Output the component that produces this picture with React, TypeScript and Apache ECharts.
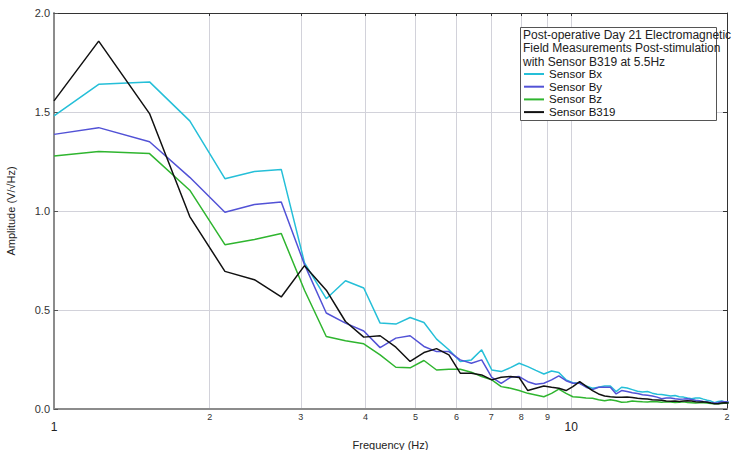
import React, { useEffect, useRef } from "react";
import * as echarts from "echarts";

const frequencies = [
  1.0, 1.22, 1.53, 1.83, 2.14, 2.44, 2.75, 3.05, 3.36, 3.66, 3.97, 4.27, 4.58, 4.88, 5.19, 5.49,
  5.8, 6.1, 6.41, 6.71, 7.02, 7.32, 7.63, 7.93, 8.24, 8.54, 8.85, 9.16, 9.46, 9.77, 10.07, 10.38,
  10.68, 10.99, 11.29, 11.6, 11.9, 12.21, 12.51, 12.82, 13.12, 13.43, 13.73, 14.04, 14.34, 14.65,
  14.95, 15.26, 15.56, 15.87, 16.17, 16.48, 16.78, 17.09, 17.39, 17.7, 18.0, 18.31, 18.62, 18.92,
  19.23, 19.53, 19.84, 20.14,
];

const sensorBx = [
  1.48, 1.64, 1.652, 1.455, 1.163, 1.2, 1.21, 0.738, 0.557, 0.648, 0.611, 0.434, 0.429, 0.462,
  0.437, 0.353, 0.299, 0.24, 0.248, 0.299, 0.197, 0.189, 0.209, 0.231, 0.214, 0.195, 0.177, 0.192,
  0.184, 0.147, 0.133, 0.13, 0.116, 0.105, 0.11, 0.116, 0.116, 0.088, 0.11, 0.106, 0.098, 0.09,
  0.086, 0.088, 0.08, 0.074, 0.073, 0.07, 0.066, 0.068, 0.062, 0.06, 0.056, 0.052, 0.055, 0.056,
  0.05, 0.044, 0.04, 0.032, 0.038, 0.04, 0.035, 0.034,
];

const sensorBy = [
  1.387, 1.421, 1.35, 1.17, 0.994, 1.033, 1.046, 0.729, 0.485, 0.434, 0.394, 0.31, 0.358, 0.37,
  0.316, 0.29, 0.29, 0.248, 0.231, 0.248, 0.16, 0.13, 0.16, 0.164, 0.138, 0.125, 0.13, 0.147,
  0.167, 0.143, 0.13, 0.13, 0.11, 0.098, 0.11, 0.11, 0.11, 0.076, 0.093, 0.088, 0.082, 0.078,
  0.072, 0.07, 0.066, 0.06, 0.052, 0.055, 0.056, 0.052, 0.049, 0.05, 0.052, 0.048, 0.044, 0.042,
  0.038, 0.035, 0.032, 0.03, 0.032, 0.038, 0.036, 0.035,
];

const sensorBz = [
  1.278, 1.301, 1.29, 1.105, 0.83, 0.856, 0.886, 0.6, 0.366, 0.345, 0.329, 0.273, 0.211, 0.208,
  0.245, 0.197, 0.201, 0.201, 0.186, 0.164, 0.147, 0.113, 0.105, 0.093, 0.079, 0.071, 0.062, 0.079,
  0.1, 0.079, 0.062, 0.059, 0.056, 0.054, 0.047, 0.042, 0.047, 0.042, 0.034, 0.035, 0.04, 0.038,
  0.036, 0.035, 0.038, 0.036, 0.034, 0.036, 0.035, 0.033, 0.034, 0.036, 0.033, 0.032, 0.03, 0.032,
  0.031, 0.03, 0.028, 0.027, 0.026, 0.028, 0.03, 0.03,
];

const sensorB319 = [
  1.556, 1.858, 1.492, 0.972, 0.695, 0.653, 0.566, 0.724, 0.6, 0.442, 0.363, 0.37, 0.312, 0.24,
  0.285, 0.305, 0.273, 0.181, 0.181, 0.172, 0.147, 0.16, 0.164, 0.159, 0.093, 0.105, 0.116, 0.11,
  0.105, 0.093, 0.113, 0.138, 0.116, 0.093, 0.076, 0.066, 0.062, 0.059, 0.059, 0.06, 0.058, 0.054,
  0.052, 0.05, 0.047, 0.046, 0.044, 0.04, 0.039, 0.04, 0.038, 0.04, 0.042, 0.04, 0.037, 0.035,
  0.036, 0.034, 0.03, 0.027, 0.026, 0.03, 0.032, 0.03,
];

const seriesNames = ["Sensor Bx", "Sensor By", "Sensor Bz", "Sensor B319"];
const seriesColors = ["#25bfd8", "#5252d6", "#2fb52f", "#111111"];
const xGridValues = [2, 3, 4, 5, 6, 7, 8, 9, 10];
const xLabelValues = [1, 2, 3, 4, 5, 6, 7, 8, 9, 10, 20];
const yTickValues = [0, 0.5, 1, 1.5, 2];
const legendTitle =
  "Post-operative Day 21 Electromagnetic\nField Measurements Post-stimulation\nwith Sensor B319 at 5.5Hz";
const xAxisName = "Frequency (Hz)";
const yAxisName = "Amplitude (V/\u221AHz)";

const font = "Liberation Sans, Arial, Helvetica, sans-serif";

export default function App() {
  const ref = useRef<HTMLDivElement>(null);

  useEffect(() => {
    document.body.style.margin = "0";
    if (!ref.current) return;
    const chart = echarts.init(ref.current, null, { renderer: "svg" });
    const allSeries = [sensorBx, sensorBy, sensorBz, sensorB319];

    const option: any = {
      animation: false,
      backgroundColor: "#ffffff",
      textStyle: { fontFamily: font },
      title: {
        text: legendTitle,
        left: 523,
        top: 28,
        padding: 0,
        z: 8,
        textStyle: {
          fontSize: 12,
          fontWeight: "normal",
          color: "#222",
          lineHeight: 13.5,
          fontFamily: font,
        },
      },
      legend: {
        data: seriesNames,
        orient: "vertical",
        left: 524,
        top: 68,
        padding: 0,
        itemWidth: 20,
        itemHeight: 2,
        itemGap: 0.7,
        icon: "rect",
        z: 8,
        textStyle: { fontSize: 11.5, color: "#111", lineHeight: 12, fontFamily: font },
      },
      graphic: [
        {
          type: "rect",
          z: 5,
          shape: { x: 520.5, y: 27.5, width: 196, height: 93 },
          style: { fill: "#ffffff", stroke: "#555555", lineWidth: 1 },
        },
      ],
      grid: { left: 54, right: 23, top: 13, bottom: 41, outerBoundsMode: "none", containLabel: false },
      xAxis: [
        {
          type: "log",
          logBase: 10,
          min: 1,
          max: 20,
          position: "bottom",
          name: xAxisName,
          nameLocation: "middle",
          nameGap: 30,
          nameTextStyle: { fontSize: 11, color: "#222", fontFamily: font },
          axisLine: { show: true, lineStyle: { color: "#8c8c8c", width: 2 } },
          axisTick: { show: false, customValues: xGridValues },
          minorTick: { show: false },
          minorSplitLine: { show: false },
          axisLabel: {
            customValues: xLabelValues,
            showMinLabel: true,
            showMaxLabel: true,
            margin: 3,
            formatter: (v: number) => {
              const n = Math.round(v);
              if (n === 1 || n === 10) return `{major|${n}}`;
              return `{minor|${n === 20 ? 2 : n}}`;
            },
            rich: {
              major: { fontSize: 12, color: "#222", padding: [9, 0, 0, 0], fontFamily: font },
              minor: { fontSize: 9, color: "#333", fontFamily: font },
            },
          },
          splitLine: { show: true, lineStyle: { color: "#d2d2da", width: 1 } },
        },
        {
          type: "log",
          logBase: 10,
          min: 1,
          max: 20,
          position: "top",
          axisLine: { show: true, onZero: false, lineStyle: { color: "#333", width: 1 } },
          axisTick: {
            show: true,
            inside: true,
            length: 3,
            customValues: xGridValues,
            lineStyle: { color: "#333" },
          },
          minorTick: { show: false },
          axisLabel: { show: false },
          splitLine: { show: false },
        },
      ],
      yAxis: [
        {
          type: "value",
          min: 0,
          max: 2,
          interval: 0.5,
          position: "left",
          name: yAxisName,
          nameLocation: "middle",
          nameGap: 38,
          nameTextStyle: { fontSize: 11, color: "#222", fontFamily: font },
          axisLine: { show: true, onZero: false, lineStyle: { color: "#8c8c8c", width: 2 } },
          axisTick: { show: true, inside: true, length: 4, lineStyle: { color: "#555" } },
          axisLabel: {
            customValues: yTickValues,
            fontSize: 11,
            color: "#333",
            margin: 4,
            fontFamily: font,
            formatter: (v: number) => v.toFixed(1),
          },
          splitLine: { show: true, lineStyle: { color: "#d2d2da", width: 1 } },
        },
        {
          type: "value",
          min: 0,
          max: 2,
          interval: 0.5,
          position: "right",
          axisLine: { show: true, onZero: false, lineStyle: { color: "#333", width: 1 } },
          axisTick: { show: true, inside: true, length: 4, lineStyle: { color: "#333" } },
          axisLabel: { show: false },
          splitLine: { show: false },
        },
      ],
      series: seriesNames.map((name, i) => ({
        name,
        type: "line",
        xAxisIndex: 0,
        yAxisIndex: 0,
        showSymbol: false,
        symbol: "none",
        clip: true,
        color: seriesColors[i],
        lineStyle: { color: seriesColors[i], width: 1.5 },
        data: frequencies.map((f, j) => [f, allSeries[i][j]]),
      })),
    };

    chart.setOption(option);
    return () => chart.dispose();
  }, []);

  return <div ref={ref} style={{ width: 750, height: 450 }} />;
}
